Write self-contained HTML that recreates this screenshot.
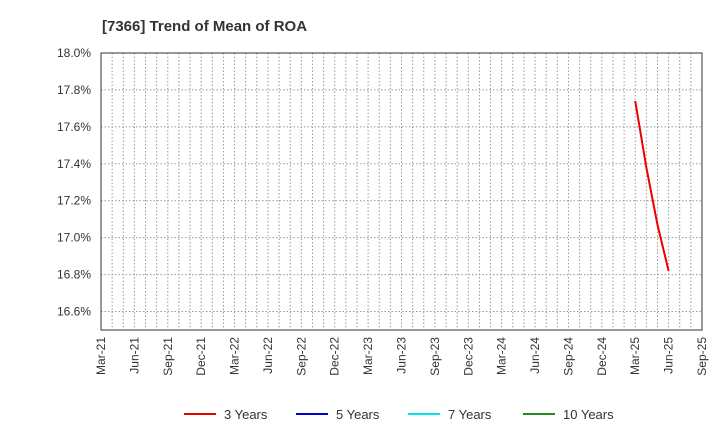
<!DOCTYPE html>
<html><head><meta charset="utf-8"><style>
body{margin:0;background:#fff;font-family:"Liberation Sans",sans-serif;}
</style></head><body>
<svg width="720" height="440" xmlns="http://www.w3.org/2000/svg" id="c">
<text x="102" y="31" font-size="15" font-weight="bold" fill="#333">[7366]  Trend of Mean of ROA</text>
<g id="grid"></g><g id="yt"></g><g id="xt"></g><g id="series"></g>
<rect x="101" y="53" width="601" height="277" fill="none" stroke="#333" stroke-width="1"/>
<g id="legend"></g>
</svg>
<script>
const yTicks=[16.6,16.8,17.0,17.2,17.4,17.6,17.8,18.0];
const xLabels=["Mar-21","Jun-21","Sep-21","Dec-21","Mar-22","Jun-22","Sep-22","Dec-22","Mar-23","Jun-23","Sep-23","Dec-23","Mar-24","Jun-24","Sep-24","Dec-24","Mar-25","Jun-25","Sep-25"];
const months3=[48,49,50,51];
const values3=[17.74,17.38,17.07,16.82];
const seriesNames=["3 Years","5 Years","7 Years","10 Years"];
const seriesColors=["#ee0000","#0000cc","#00e5ee","#228b22"];
const NS="http://www.w3.org/2000/svg";
const L=101,R=702,T=53,B=330,ymin=16.5,ymax=18.0,nm=54;
const X=m=>L+(R-L)*m/nm, Y=v=>B-(B-T)*(v-ymin)/(ymax-ymin);
function mk(t,a,p){const e=document.createElementNS(NS,t);for(const k in a)e.setAttribute(k,a[k]);p.appendChild(e);return e;}
const g=document.getElementById('grid');
for(let m=1;m<nm;m++){const l=mk('line',{x1:X(m),x2:X(m),y1:T,y2:B,stroke:'#999','stroke-dasharray':'1.5,2','stroke-width':1},g);

}
const yt=document.getElementById('yt');
yTicks.forEach(v=>{const l=mk('line',{x1:L,x2:R,y1:Y(v),y2:Y(v),stroke:'#999','stroke-dasharray':'1.5,2','stroke-width':1},g);


const t=mk('text',{x:91,y:Y(v)+4,'font-size':12,fill:'#333','text-anchor':'end'},yt);t.textContent=v.toFixed(1)+'%';

});
const xt=document.getElementById('xt');
xLabels.forEach((s,i)=>{const x=X(i*3);const t=mk('text',{x:x+4,y:337,'font-size':12,fill:'#333','text-anchor':'end',transform:`rotate(-90 ${x+4} 337)`},xt);t.textContent=s;

});
const sg=document.getElementById('series');
const p=mk('polyline',{points:months3.map((m,i)=>X(m)+','+Y(values3[i])).join(' '),fill:'none',stroke:seriesColors[0],'stroke-width':2},sg);


const lg=document.getElementById('legend');
const lx=[184,296,408,523];
seriesNames.forEach((n,i)=>{const gg=mk('g',{},lg);


mk('line',{x1:lx[i],x2:lx[i]+32,y1:414,y2:414,stroke:seriesColors[i],'stroke-width':2},gg);
const t=mk('text',{x:lx[i]+40,y:419,'font-size':13,fill:'#333'},gg);t.textContent=n;});
</script>
</body></html>
